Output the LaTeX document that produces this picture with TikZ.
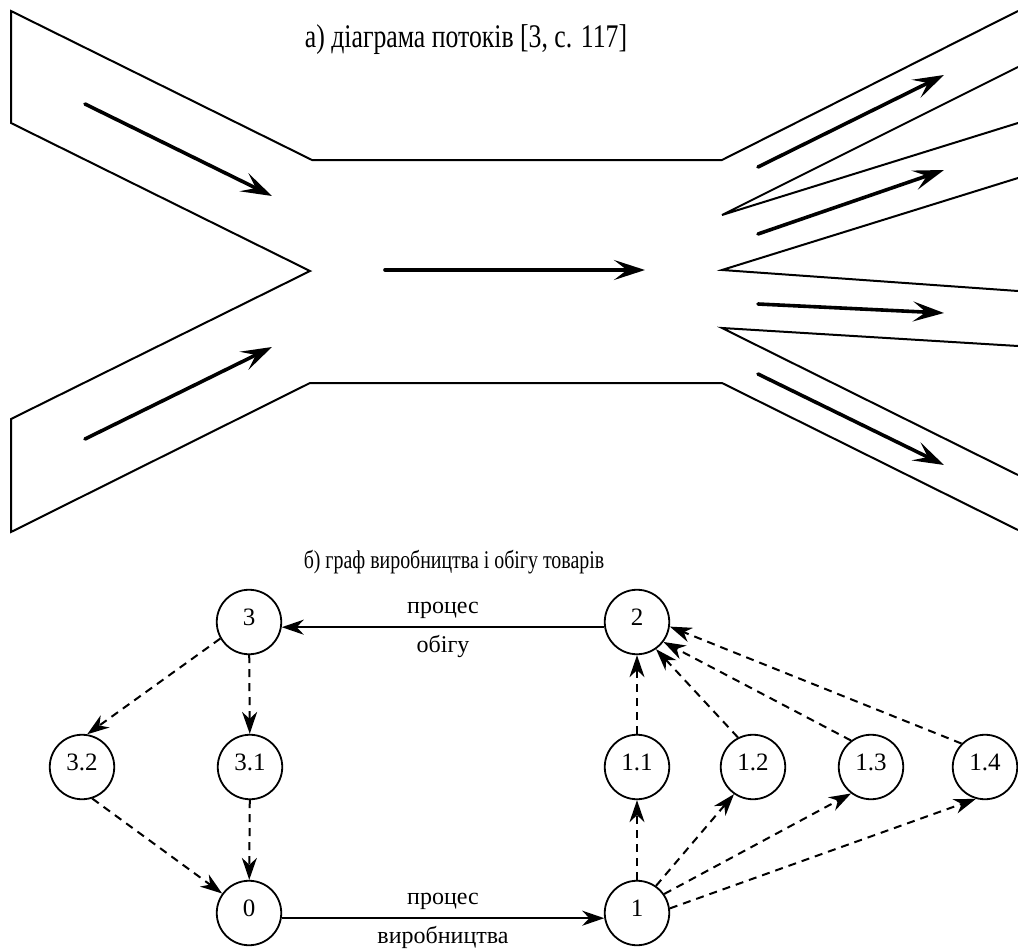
\documentclass[tikz,border=0pt]{standalone}
\usepackage{fontspec}
\setmainfont{Liberation Serif}
\newfontfamily\narrowserif{Liberation Serif}[FakeStretch=0.78]
\usepackage{tikz}
\usetikzlibrary{arrows.meta}
\tikzset{>={Stealth[length=22pt,width=15pt,inset=7pt]}}
\tikzstyle{state}=[circle,draw,line width=1.8pt,minimum size=64.5pt,inner sep=0pt,text depth=10pt,font=\fontsize{25}{28}\selectfont]
\tikzstyle{lbl}=[font=\fontsize{24}{28}\selectfont,inner sep=7pt]
\tikzstyle{process}=[->,line width=2.2pt]
\tikzstyle{sub}=[->,line width=2pt,dash pattern=on 8pt off 6pt]
\tikzstyle{pipe}=[line width=2pt]
\tikzstyle{flow}=[-{Stealth[length=31pt,width=20pt,inset=13pt]},line width=3.6pt,line cap=round]

\begin{document}
\begin{tikzpicture}[x=1pt,y=-1pt]
  \useasboundingbox (0,0) rectangle (1018,950);
  % a) flow diagram
  \node[anchor=base,font=\narrowserif\fontsize{33}{36}\selectfont] (titleA) at (466,48) {а) діаграма потоків [3, с. 117]};
  \draw[pipe] (1018,11) -- (722,160) -- (312,160) -- (11,11) -- (11,123) -- (310,271)
              -- (11,419) -- (11,532) -- (310,383) -- (722,383) -- (1018,530);
  \draw[pipe] (1018,67) -- (722,215) -- (1018,123);
  \draw[pipe] (1018,178) -- (722,270) -- (1018,291);
  \draw[pipe] (1018,346) -- (722,328) -- (1018,475);
  \draw[flow] (85,104) -- (272,196);
  \draw[flow] (85,439) -- (272,347);
  \draw[flow] (385,270) -- (645,270);
  \draw[flow] (758,167) -- (944,75);
  \draw[flow] (758,234) -- (944,170);
  \draw[flow] (758,304) -- (944,313);
  \draw[flow] (758,374) -- (944,465);

  % b) graph
  \node[anchor=base,font=\narrowserif\fontsize{25.5}{28}\selectfont] (titleB) at (454,568) {б) граф виробництва і обігу товарів};
  \node[state] (n3)  at (249,622) {3};
  \node[state] (n2)  at (637,622) {2};
  \node[state] (n32) at (82,767)  {3.2};
  \node[state] (n31) at (250,767) {3.1};
  \node[state] (n11) at (637,767) {1.1};
  \node[state] (n12) at (753,767) {1.2};
  \node[state] (n13) at (871,767) {1.3};
  \node[state] (n14) at (985,767) {1.4};
  \node[state] (n0)  at (249,913) {0};
  \node[state] (n1)  at (637,913) {1};

  \draw[process] (n2.189) -- (n3.-9) node[midway,above,lbl] {процес} node[midway,below,lbl] {обігу};
  \draw[process] (n0.-9) -- (n1.189) node[midway,above,lbl] {процес} node[midway,below,lbl] {виробництва};

  \draw[sub] (n3.210) -- (n32.81);
  \draw[sub] (n3) -- (n31);
  \draw[sub] (n32.-72) -- (n0.144);
  \draw[sub] (n31) -- (n0);
  \draw[sub] (n1) -- (n11);
  \draw[sub] (n1.55) -- (n12.235);
  \draw[sub] (n1.35) -- (n13.233);
  \draw[sub] (n1.8) -- (n14.254);
  \draw[sub] (n11) -- (n2);
  \draw[sub] (n12.117) -- (n2.-55);
  \draw[sub] (n13.127) -- (n2.-37);
  \draw[sub] (n14.135) -- (n2.-8);
\end{tikzpicture}
\end{document}
